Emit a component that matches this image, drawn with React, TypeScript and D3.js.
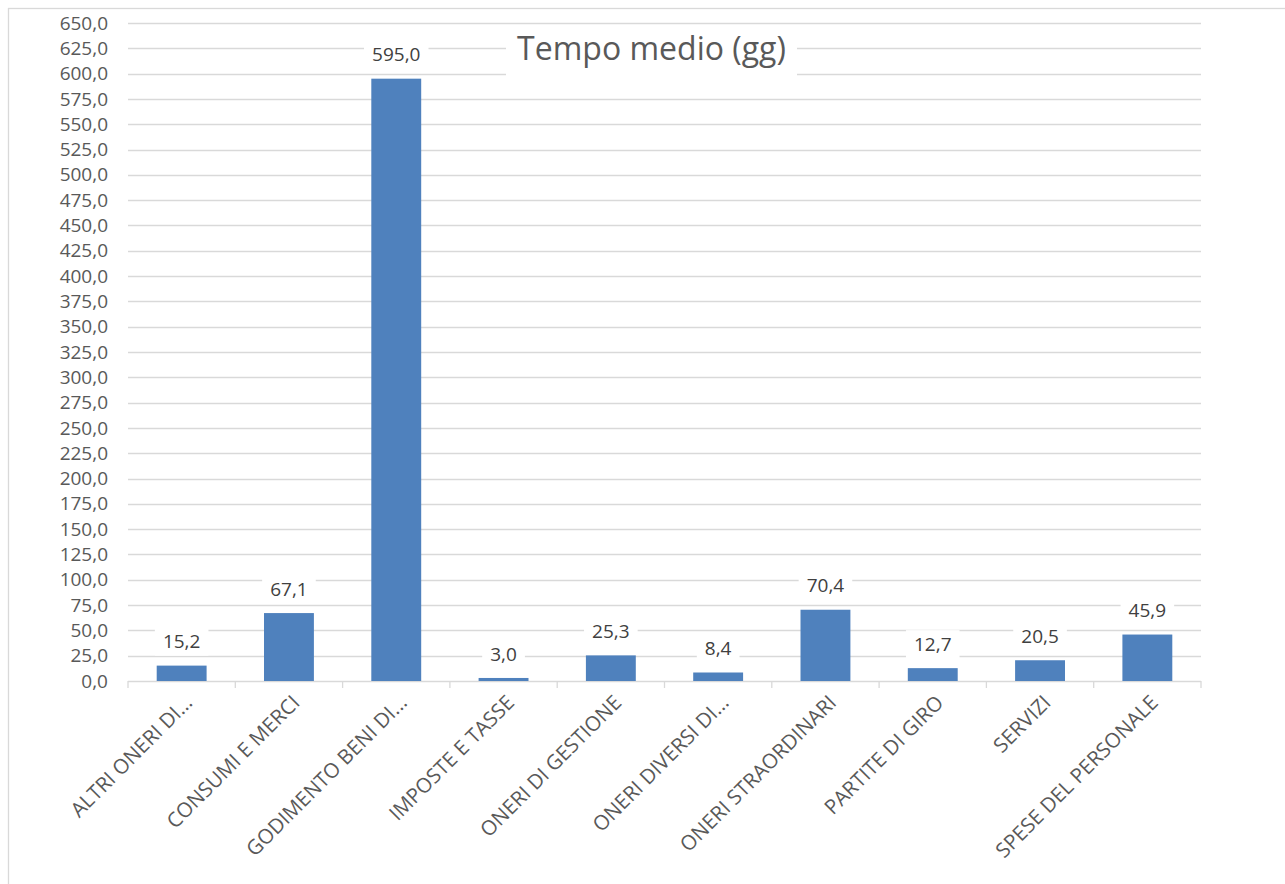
import React from "react";
import * as d3 from "d3";

// Average time (days) by cost category
const categories = [
  "ALTRI ONERI DI...",
  "CONSUMI E MERCI",
  "GODIMENTO BENI DI...",
  "IMPOSTE E TASSE",
  "ONERI DI GESTIONE",
  "ONERI DIVERSI DI...",
  "ONERI STRAORDINARI",
  "PARTITE DI GIRO",
  "SERVIZI",
  "SPESE DEL PERSONALE",
];
const values = [15.2, 67.1, 595.0, 3.0, 25.3, 8.4, 70.4, 12.7, 20.5, 45.9];
const yTicks = d3.range(0, 651, 25);
const title = "Tempo medio (gg)";

const W = 1285;
const H = 884;
const plot = { left: 128, right: 1201, top: 23, bottom: 681 };
const font = "'Open Sans', 'Noto Sans', sans-serif";
const fmt = (v: number) => v.toFixed(1).replace(".", ",");

export default function App() {
  const x = d3
    .scaleBand<string>()
    .domain(categories)
    .range([plot.left, plot.right])
    .paddingInner(0.535)
    .paddingOuter(0.2675);
  const y = d3.scaleLinear().domain([0, 650]).range([plot.bottom, plot.top]);
  const step = x.step();
  const bounds = d3.range(categories.length + 1).map((i) => plot.left + i * step);

  const labelW = (s: string) => s.length * 10.9 - 6 + 16;

  return (
    <svg
      width={W}
      height={H}
      style={{ position: "absolute", left: 0, top: 0, background: "#fff" }}
      fontFamily={font}
    >
      <rect x={8.5} y={8.5} width={W + 20} height={H + 20} fill="#fff" stroke="#d9d9d9" strokeWidth={1.3} />

      {/* horizontal gridlines */}
      {yTicks.map((t) => (
        <line
          key={t}
          x1={plot.left}
          x2={plot.right}
          y1={Math.round(y(t)) + 0.5}
          y2={Math.round(y(t)) + 0.5}
          stroke="#d9d9d9"
          strokeWidth={1.3}
        />
      ))}

      {/* y tick labels */}
      {yTicks.map((t) => (
        <text
          key={t}
          x={108}
          y={y(t)}
          dy="0.35em"
          textAnchor="end"
          fontSize={19}
          fill="#595959"
        >
          {fmt(t)}
        </text>
      ))}

      {/* category tick marks */}
      {bounds.map((bx, i) => (
        <line
          key={i}
          x1={bx}
          x2={bx}
          y1={plot.bottom}
          y2={plot.bottom + 7}
          stroke="#d9d9d9"
          strokeWidth={1.3}
        />
      ))}

      {/* bars */}
      {categories.map((c, i) => (
        <rect
          key={c}
          x={x(c)}
          y={y(values[i])}
          width={x.bandwidth()}
          height={plot.bottom - y(values[i])}
          fill="#4f81bd"
        />
      ))}

      {/* value labels */}
      {categories.map((c, i) => {
        const cx = (x(c) as number) + x.bandwidth() / 2;
        const cy = y(values[i]) - 24;
        const s = fmt(values[i]);
        const w = labelW(s);
        return (
          <g key={c}>
            <rect x={cx - w / 2} y={cy - 14} width={w} height={28} fill="#fff" />
            <text x={cx} y={cy} dy="0.35em" textAnchor="middle" fontSize={19} fill="#404040">
              {s}
            </text>
          </g>
        );
      })}

      {/* category labels */}
      {categories.map((c) => {
        const cx = (x(c) as number) + x.bandwidth() / 2;
        return (
          <text
            key={c}
            transform={`translate(${cx + 12},${plot.bottom + 23}) rotate(-45)`}
            textAnchor="end"
            fontSize={20.5}
            fill="#595959"
          >
            {c}
          </text>
        );
      })}

      {/* title */}
      <rect x={506} y={30} width={291} height={58} fill="#fff" />
      <text x={651.5} y={60} textAnchor="middle" fontSize={32} fill="#595959">
        {title}
      </text>
    </svg>
  );
}
